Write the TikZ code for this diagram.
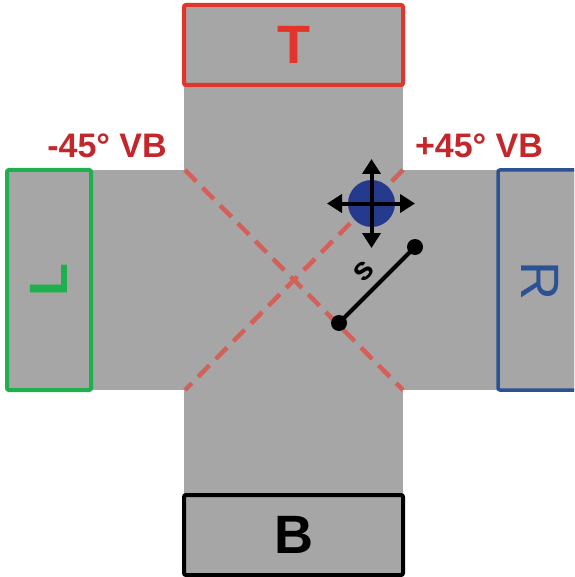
\documentclass[tikz,border=0pt]{standalone}
\usepackage{fontspec}
\setmainfont{Liberation Sans}
\usetikzlibrary{arrows.meta}
\definecolor{crossgray}{HTML}{A6A6A6}
\definecolor{tred}{HTML}{E2342B}
\definecolor{lgreen}{HTML}{1EB04C}
\definecolor{rblue}{HTML}{2C5293}
\definecolor{labred}{HTML}{C3272B}
\definecolor{dashred}{HTML}{D4605A}
\definecolor{navy}{HTML}{253A8C}
\begin{document}
\begin{tikzpicture}[x=1pt,y=-1pt,
  armbox/.style={draw, fill=crossgray, line width=4pt, rounded corners=2pt, inner sep=0pt,
    font=\bfseries\fontsize{54}{60}\selectfont},
  vblabel/.style={text=labred, inner sep=0pt, font=\bfseries\fontsize{34}{38}\selectfont},
  dashline/.style={draw=dashred, line width=4.5pt, dash pattern=on 16pt off 9pt},
  movearrow/.style={draw=black, line width=4pt, {Triangle[length=15pt,width=18pt]}-{Triangle[length=15pt,width=18pt]}},
  enddot/.style={circle, fill=black, minimum size=16pt, inner sep=0pt},
  seg/.style={draw=black, line width=4pt}]
\useasboundingbox (0,0) rectangle (574,577);
\clip (0,0) rectangle (574,577);
% gray cross
\fill[crossgray] (184,5) rectangle (403,575);
\fill[crossgray] (8,170) rectangle (600,390);
% boxes
\node[armbox, draw=tred, text=tred, minimum width=219pt, minimum height=80pt] (T) at (293.5,45) {T};
\node[armbox, draw=black, text=black, minimum width=219pt, minimum height=80pt] (B) at (293.5,535) {B};
\node[armbox, draw=lgreen, text=lgreen, minimum width=84pt, minimum height=220pt] (Lbox) at (49,280) {};
\node[rotate=90, text=lgreen, inner sep=0pt, font=\bfseries\fontsize{54}{60}\selectfont] (Ltext) at (49,280) {L};
\node[armbox, draw=rblue, line width=3.5pt, minimum width=84pt, minimum height=220pt] (Rbox) at (540,280) {};
\node[rotate=-90, text=rblue, inner sep=0pt, font=\fontsize{54}{60}\selectfont] (Rtext) at (540,281) {R};
% labels
\node[vblabel] (mlab) at (107,146) {-45° VB};
\node[vblabel] (plab) at (479,146) {+45° VB};
% dashed diagonals
\coordinate (c1) at (185,170);
\coordinate (c2) at (403,170);
\coordinate (c3) at (403,390);
\coordinate (c4) at (185,390);
\draw[dashline] (c1) -- (c3);
\draw[dashline] (c2) -- (c4);
% particle with move arrows
\node[circle, fill=navy, minimum size=47pt, inner sep=0pt] (P) at (371.5,203.5) {};
\coordinate (pl) at (327,203.5);
\coordinate (pr) at (415,203.5);
\coordinate (pt) at (371.5,159);
\coordinate (pb) at (371.5,248);
\draw[movearrow] (pl) -- (pr);
\draw[movearrow] (pt) -- (pb);
% segment s
\node[enddot] (s1) at (339,323) {};
\node[enddot] (s2) at (415,247) {};
\draw[seg] (s1.center) -- (s2.center);
\node[rotate=45, inner sep=0pt, font=\bfseries\fontsize{32}{36}\selectfont] (slab) at (364,271) {s};
\end{tikzpicture}
\end{document}
